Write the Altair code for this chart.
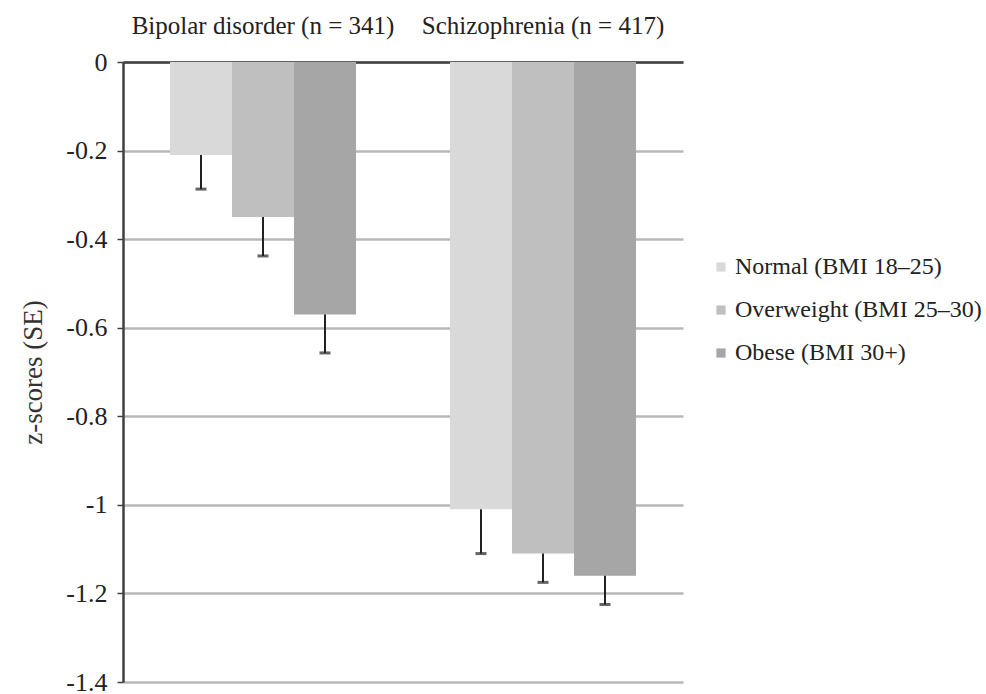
import altair as alt
import pandas as pd

groups = ["Bipolar disorder (n = 341)", "Schizophrenia (n = 417)"]
categories = ["Normal (BMI 18–25)", "Overweight (BMI 25–30)", "Obese (BMI 30+)"]
bipolar_values = [-0.21, -0.35, -0.57]
schizo_values = [-1.01, -1.11, -1.16]
bipolar_se = [0.077, 0.088, 0.087]
schizo_se = [0.100, 0.065, 0.065]
colors = ["#d9d9d9", "#bfbfbf", "#a6a6a6"]
y_ticks = [0, -0.2, -0.4, -0.6, -0.8, -1, -1.2, -1.4]

rows = []
for g, vals, ses in [(groups[0], bipolar_values, bipolar_se), (groups[1], schizo_values, schizo_se)]:
    for c, v, s in zip(categories, vals, ses):
        rows.append({"group": g, "cat": c, "value": v, "low": v - s})
df = pd.DataFrame(rows)

FONT = "Liberation Serif"

x_enc = alt.X(
    "group:N",
    sort=groups,
    scale=alt.Scale(paddingInner=0, paddingOuter=0),
    axis=alt.Axis(
        orient="top", title=None, labelAngle=0, ticks=False,
        labelFont=FONT, labelFontSize=25, labelColor="#222222", labelPadding=24,
        domainColor="#404040", domainWidth=2.5, labelLimit=400,
    ),
)
xo_enc = alt.XOffset("cat:N", sort=categories,
                     scale=alt.Scale(paddingInner=0, paddingOuter=0.758))

bars = alt.Chart(df).mark_bar().encode(
    x=x_enc,
    xOffset=xo_enc,
    y=alt.Y(
        "value:Q",
        scale=alt.Scale(domain=[-1.4, 0], nice=False),
        axis=alt.Axis(
            values=y_ticks, labelExpr="toString(datum.value)", title="z-scores (SE)",
            titleFont=FONT, titleFontSize=27, titleFontWeight="normal", titleColor="#333333",
            titleX=-90, titleBaseline="middle",
            labelFont=FONT, labelFontSize=26, labelColor="#222222", labelPadding=10,
            tickSize=6, tickColor="#404040", tickWidth=1.5,
            domainColor="#404040", domainWidth=2.5,
            grid=True, gridColor="#b8b8b8", gridWidth=2.5,
        ),
    ),
    color=alt.Color(
        "cat:N", sort=categories,
        scale=alt.Scale(domain=categories, range=colors),
        legend=alt.Legend(
            title=None, orient="none", legendX=586, legendY=193,
            symbolType="square", symbolSize=85, symbolStrokeWidth=0,
            labelFont=FONT, labelFontSize=24, labelColor="#222222",
            rowPadding=19, labelOffset=2, labelLimit=400,
        ),
    ),
)

err = alt.Chart(df).mark_rule(color="#222222", strokeWidth=2).encode(
    x=alt.X("group:N", sort=groups),
    xOffset=alt.XOffset("cat:N", sort=categories),
    y="value:Q",
    y2="low:Q",
)

caps = alt.Chart(df).mark_tick(color="#222222", thickness=3, size=11).encode(
    x=alt.X("group:N", sort=groups),
    xOffset=alt.XOffset("cat:N", sort=categories),
    y="low:Q",
)

chart = (bars + err + caps).properties(
    width=560, height=620,
    autosize="none",
    padding={"left": 123, "top": 62, "right": 303, "bottom": 12},
    background="white",
).configure_view(stroke=None)

chart.save("out.html", embed_options={"renderer": "svg", "actions": False})
